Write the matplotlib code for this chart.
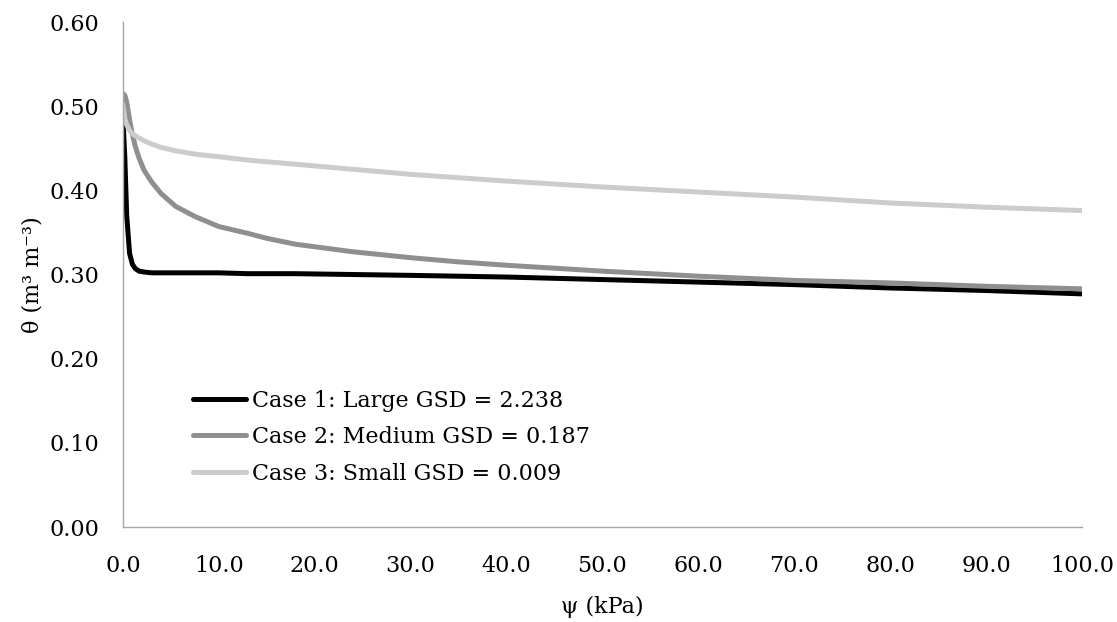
import numpy as np
import matplotlib
matplotlib.use("Agg")
import matplotlib.pyplot as plt
from matplotlib.ticker import MultipleLocator, FormatStrFormatter

plt.rcParams.update({
    "font.family": "DejaVu Serif",
    "font.size": 16,
})

# suction (kPa) and water content for the three grain size distributions
psi = [0, 0.2, 0.4, 0.7, 1.0, 1.3, 1.7, 2.2, 3.0, 4.0, 5.5, 7.5, 10, 13, 15,
       18, 24, 30, 35, 40, 50, 60, 70, 80, 90, 100]
case1 = [0.487, 0.44, 0.37, 0.325, 0.312, 0.307, 0.304, 0.303, 0.302, 0.302,
         0.302, 0.302, 0.302, 0.301, 0.301, 0.301, 0.300, 0.299, 0.298, 0.297,
         0.294, 0.291, 0.288, 0.284, 0.281, 0.277]
case2 = [0.515, 0.513, 0.505, 0.484, 0.466, 0.452, 0.438, 0.424, 0.410, 0.396,
         0.381, 0.369, 0.357, 0.349, 0.343, 0.336, 0.327, 0.320, 0.315, 0.311,
         0.304, 0.298, 0.293, 0.290, 0.286, 0.283]
case3 = [0.502, 0.485, 0.478, 0.471, 0.467, 0.465, 0.462, 0.459, 0.455, 0.451,
         0.447, 0.443, 0.440, 0.436, 0.434, 0.431, 0.425, 0.419, 0.415, 0.411,
         0.404, 0.398, 0.392, 0.385, 0.380, 0.376]
labels = ["Case 1: Large GSD = 2.238",
          "Case 2: Medium GSD = 0.187",
          "Case 3: Small GSD = 0.009"]
colors = ["#000000", "#8f8f8f", "#cccccc"]

fig = plt.figure(figsize=(11.17, 6.22), dpi=100)
ax = fig.add_axes([0.110, 0.1527, 0.8587, 0.8119])

for y, lab, c in zip([case1, case2, case3], labels, colors):
    ax.plot(psi, y, color=c, lw=3.6, label=lab, solid_capstyle="round")

ax.set_xlim(0, 100)
ax.set_ylim(0, 0.6)
ax.xaxis.set_major_locator(MultipleLocator(10))
ax.yaxis.set_major_locator(MultipleLocator(0.1))
ax.xaxis.set_major_formatter(FormatStrFormatter("%.1f"))
ax.yaxis.set_major_formatter(FormatStrFormatter("%.2f"))
ax.tick_params(axis="both", length=0)
ax.tick_params(axis="y", pad=17)
ax.tick_params(axis="x", pad=20)

for s in ["top", "right"]:
    ax.spines[s].set_visible(False)
for s in ["left", "bottom"]:
    ax.spines[s].set_color("#a6a6a6")
    ax.spines[s].set_linewidth(1.0)

ax.set_xlabel("ψ (kPa)", labelpad=14)
ax.set_ylabel("θ (m³ m⁻³)", labelpad=4)

ax.legend(loc="center left", bbox_to_anchor=(0.073, 0.178), frameon=False,
          borderpad=0, borderaxespad=0, handlelength=2.4, handletextpad=0.25,
          labelspacing=0.65)

plt.savefig("out.png", dpi=100)
